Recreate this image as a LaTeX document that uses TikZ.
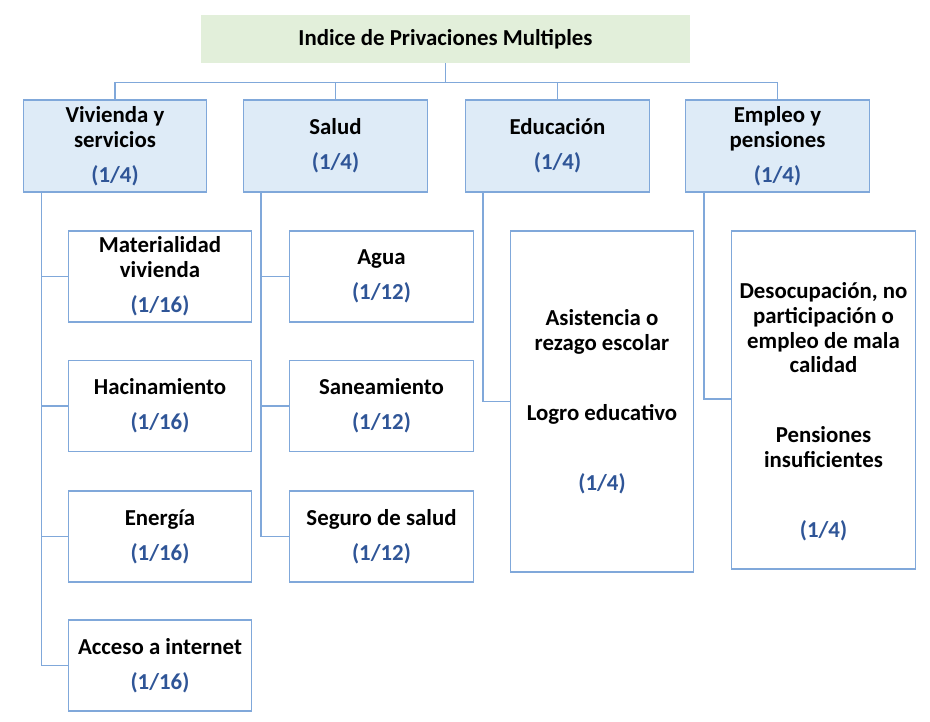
\documentclass[tikz,border=0pt]{standalone}
\usepackage{fontspec}
\setmainfont{Carlito}
\usepackage{tikz}
\usetikzlibrary{calc,positioning}

\definecolor{topgreen}{HTML}{E2EFDA}
\definecolor{dimblue}{HTML}{DEEBF7}
\definecolor{edgeblue}{HTML}{80A8DA}
\definecolor{pesoblue}{HTML}{2F5597}
\newcommand{\peso}[1]{\textcolor{pesoblue}{(#1)}}

\begin{document}
\begin{tikzpicture}[
    x=0.02cm, y=-0.02cm,
    base/.style   = {align=center, inner sep=0pt,
                     font=\fontsize{13}{14.2}\selectfont\bfseries},
    topbox/.style = {base, fill=topgreen, minimum width=97.8mm, minimum height=9.6mm},
    dimbox/.style = {base, draw=edgeblue, line width=0.8pt, fill=dimblue,
                     minimum width=36.7mm, minimum height=18.4mm},
    indbox/.style = {base, draw=edgeblue, line width=0.8pt, fill=white,
                     minimum width=36.7mm, minimum height=18.2mm},
    link/.style   = {draw=edgeblue, line width=0.8pt}
  ]

  \useasboundingbox (0,0) rectangle (930,722);

  \node[topbox] (IPM) at (445.5,39) {Indice de Privaciones Multiples};

  \node[dimbox] (VIV) at (115,146)   {Vivienda y\\servicios\\[6pt]\peso{1/4}};
  \node[dimbox] (SAL) at (335.5,146) {Salud\\[5.7pt]\peso{1/4}};
  \node[dimbox] (EDU) at (557.5,146) {Educación\\[5.7pt]\peso{1/4}};
  \node[dimbox] (EMP) at (777.5,146) {Empleo y\\pensiones\\[6pt]\peso{1/4}};

  \node[indbox] (MAT) at (160,276.5) {Materialidad\\vivienda\\[5.7pt]\peso{1/16}};
  \node[indbox] (HAC) at (160,406)   {Hacinamiento\\[5.7pt]\peso{1/16}};
  \node[indbox] (ENE) at (160,536.5) {Energía\\[5.7pt]\peso{1/16}};
  \node[indbox] (ACC) at (160,665.5) {Acceso a internet\\[5.7pt]\peso{1/16}};

  \node[indbox] (AGU) at (381.5,276.5) {Agua\\[5.7pt]\peso{1/12}};
  \node[indbox] (SAN) at (381.5,406)   {Saneamiento\\[5.7pt]\peso{1/12}};
  \node[indbox] (SEG) at (381.5,536.5) {Seguro de salud\\[5.7pt]\peso{1/12}};

  \node[indbox, minimum height=68.2mm] (ASI) at (602,401.5)
    {Asistencia o\\rezago escolar\\[25.5pt]Logro educativo\\[25.5pt]\peso{1/4}};
  \node[indbox, minimum height=67.6mm] (DES) at (823.5,400)
    {\mbox{}\\[8pt]Desocupación, no\\participación o\\empleo de mala\\calidad\\[25.5pt]Pensiones\\insuficientes\\[25.5pt]\peso{1/4}};

  % root to the four dimensions
  \foreach \n in {VIV,SAL,EDU,EMP}
    \draw[link] (IPM.south) -- ++(0,19) -| (\n.north);

  % trunks below each dimension
  \coordinate (tVIV) at ($(VIV.south west)+(19,0)$);
  \coordinate (tSAL) at ($(SAL.south west)+(18,0)$);
  \coordinate (tEDU) at ($(EDU.south west)+(18,0)$);
  \coordinate (tEMP) at ($(EMP.south west)+(19,0)$);

  \foreach \n in {MAT,HAC,ENE,ACC}
    \draw[link] (tVIV) |- (\n.west);
  \foreach \n in {AGU,SAN,SEG}
    \draw[link] (tSAL) |- (\n.west);
  \draw[link] (tEDU) |- (ASI.west);
  \draw[link] (tEMP) |- ($(DES.west)+(0,-1)$);

\end{tikzpicture}
\end{document}
